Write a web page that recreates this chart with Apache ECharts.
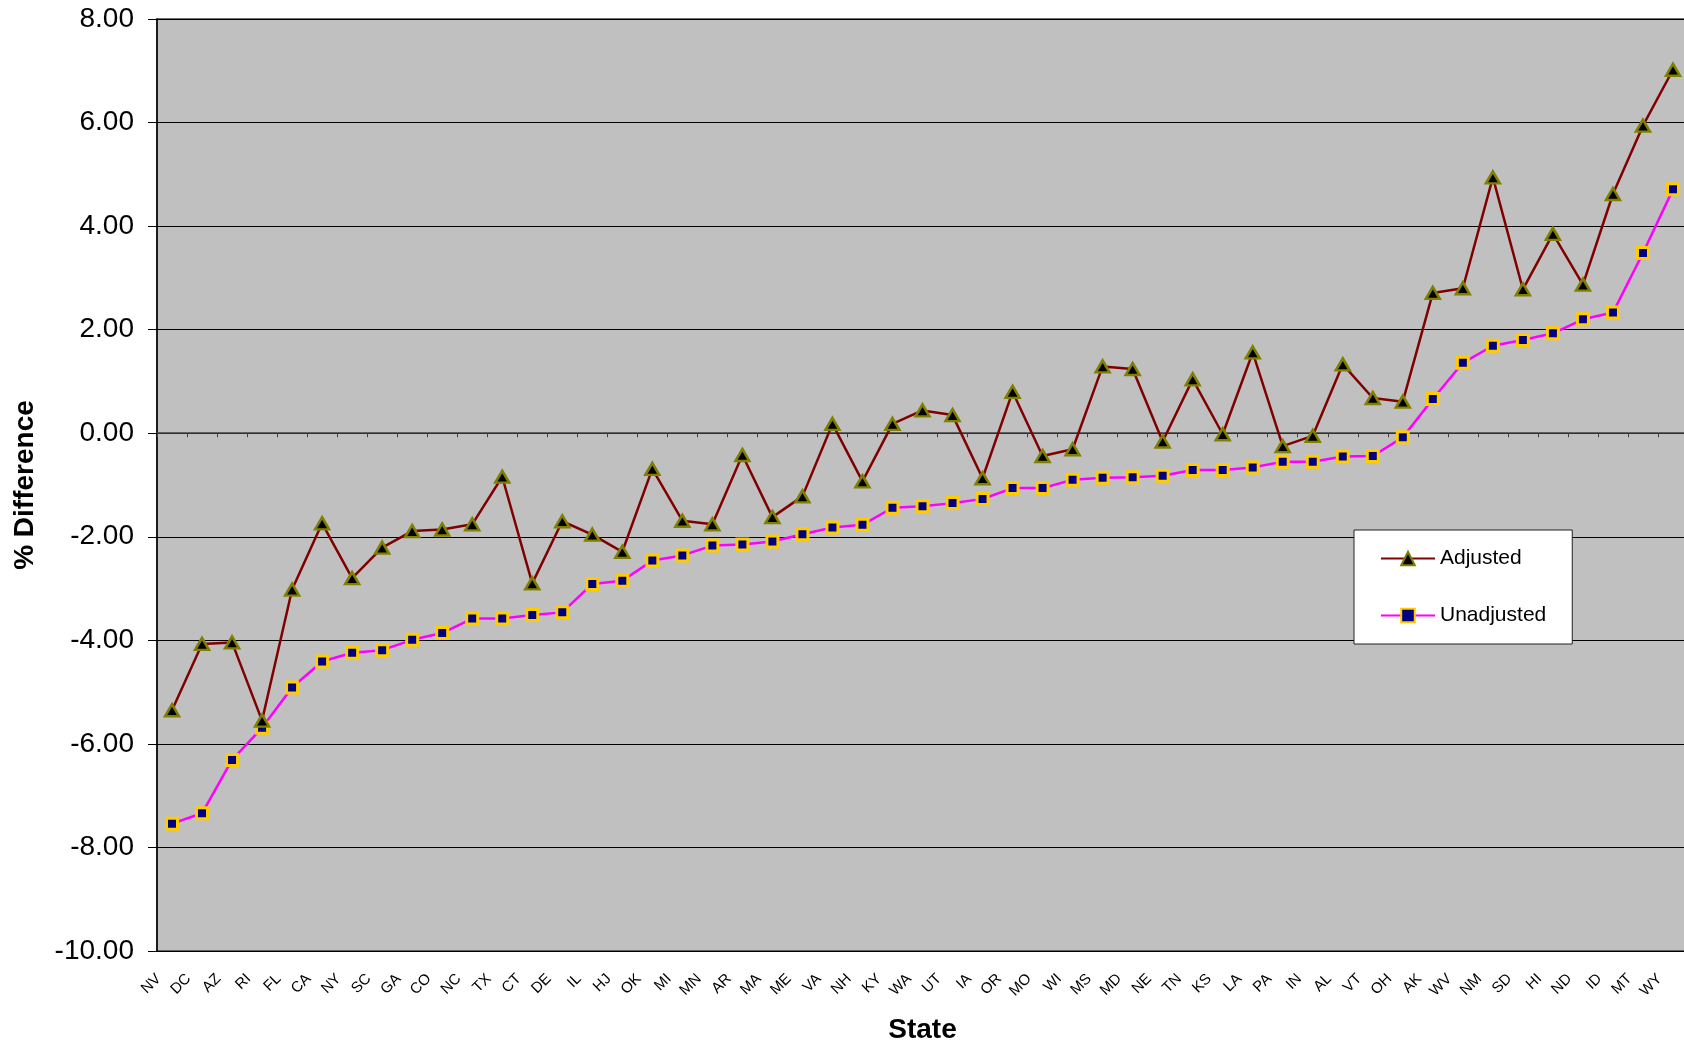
<!DOCTYPE html>
<html>
<head>
<meta charset="utf-8">
<title>% Difference by State</title>
<script src="https://cdn.jsdelivr.net/npm/echarts@6/dist/echarts.min.js"></script>
<style>
  html, body { margin: 0; padding: 0; background: #fff; }
  #chart { width: 1684px; height: 1044px; }
</style>
</head>
<body>
<div id="chart"></div>
<script>
const states = ['NV', 'DC', 'AZ', 'RI', 'FL', 'CA', 'NY', 'SC', 'GA', 'CO', 'NC', 'TX', 'CT', 'DE', 'IL', 'HJ',
  'OK', 'MI', 'MN', 'AR', 'MA', 'ME', 'VA', 'NH', 'KY', 'WA', 'UT', 'IA', 'OR', 'MO', 'WI', 'MS', 'MD', 'NE',
  'TN', 'KS', 'LA', 'PA', 'IN', 'AL', 'VT', 'OH', 'AK', 'WV', 'NM', 'SD', 'HI', 'ND', 'ID', 'MT', 'WY'];

const adjusted = [-5.35, -4.07, -4.04, -5.55, -3.02, -1.74, -2.80, -2.21, -1.89, -1.86, -1.76, -0.84, -2.90,
  -1.70, -1.96, -2.29, -0.69, -1.69, -1.76, -0.42, -1.62, -1.22, 0.18, -0.93, 0.18, 0.44, 0.35, -0.87, 0.80,
  -0.44, -0.31, 1.29, 1.24, -0.16, 1.04, -0.02, 1.56, -0.25, -0.05, 1.33, 0.68, 0.61, 2.71, 2.80, 4.94, 2.78,
  3.85, 2.87, 4.62, 5.94, 7.02];

const unadjusted = [-7.54, -7.34, -6.31, -5.69, -4.91, -4.41, -4.24, -4.19, -3.99, -3.86, -3.58, -3.58, -3.51,
  -3.46, -2.91, -2.85, -2.46, -2.36, -2.17, -2.15, -2.09, -1.95, -1.82, -1.77, -1.44, -1.41, -1.35, -1.27, -1.06,
  -1.06, -0.90, -0.86, -0.85, -0.82, -0.71, -0.71, -0.66, -0.55, -0.55, -0.45, -0.44, -0.08, 0.66, 1.36, 1.69,
  1.80, 1.93, 2.20, 2.33, 3.48, 4.71];

const yMin = -10, yMax = 8, yStep = 2;
const font = 'Liberation Sans, Arial, sans-serif';

const chart = echarts.init(document.getElementById('chart'));
chart.setOption({
  animation: false,
  textStyle: { fontFamily: font, color: '#000' },
  grid: {
    left: 157, top: 19, right: -4, bottom: 93,
    outerBoundsMode: 'none',
    show: true,
    backgroundColor: '#C0C0C0',
    borderColor: '#404040',
    borderWidth: 1.5
  },
  legend: {
    orient: 'vertical',
    left: 1354, top: 530,
    padding: [18, 26, 18, 26],
    itemGap: 36,
    itemWidth: 54,
    itemHeight: 17,
    backgroundColor: '#fff',
    borderColor: '#222',
    borderWidth: 1,
    textStyle: { fontSize: 21, fontFamily: font, color: '#000' },
    data: ['Adjusted', 'Unadjusted']
  },
  xAxis: [
    {
      // axis line crossing at zero, with ticks, no labels
      type: 'category',
      data: states,
      axisLine: { onZero: true, lineStyle: { color: '#404040', width: 1.5 } },
      axisTick: { show: true, length: 4, lineStyle: { color: '#404040' } },
      axisLabel: { show: false },
      splitLine: { show: false }
    },
    {
      // labels at the bottom of the plot
      type: 'category',
      data: states,
      position: 'bottom',
      axisLine: { show: false, onZero: false },
      axisTick: { show: false },
      axisLabel: {
        interval: 0,
        rotate: 45,
        fontSize: 15,
        margin: 12,
        padding: [0, 19, 0, 0],
        color: '#000'
      },
      splitLine: { show: false },
      name: 'State',
      nameLocation: 'middle',
      nameGap: 65,
      nameTextStyle: { fontSize: 28, fontWeight: 'bold', color: '#000' }
    }
  ],
  yAxis: {
    type: 'value',
    min: yMin, max: yMax, interval: yStep,
    axisLine: { show: true, onZero: false, lineStyle: { color: '#000', width: 1.5 } },
    axisTick: { show: true, length: 9, lineStyle: { color: '#000' } },
    axisLabel: {
      fontSize: 28, margin: 23, color: '#000',
      formatter: (v) => v.toFixed(2)
    },
    splitLine: { show: true, lineStyle: { color: '#000', width: 1 } },
    name: '% Difference',
    nameLocation: 'middle',
    nameGap: 118,
    nameTextStyle: { fontSize: 28, fontWeight: 'bold', color: '#000' }
  },
  series: [
    {
      name: 'Adjusted',
      type: 'line',
      xAxisIndex: 0,
      data: adjusted,
      symbol: 'triangle',
      symbolSize: [14, 12],
      lineStyle: { color: '#800000', width: 2.5 },
      itemStyle: { color: '#000', borderColor: '#808000', borderWidth: 2.5 },
      z: 3
    },
    {
      name: 'Unadjusted',
      type: 'line',
      xAxisIndex: 1,
      data: unadjusted,
      symbol: 'rect',
      symbolSize: 11,
      lineStyle: { color: '#FF00FF', width: 2.5 },
      itemStyle: { color: '#000080', borderColor: '#FFCC00', borderWidth: 3 },
      z: 2
    }
  ]
});
</script>
</body>
</html>
